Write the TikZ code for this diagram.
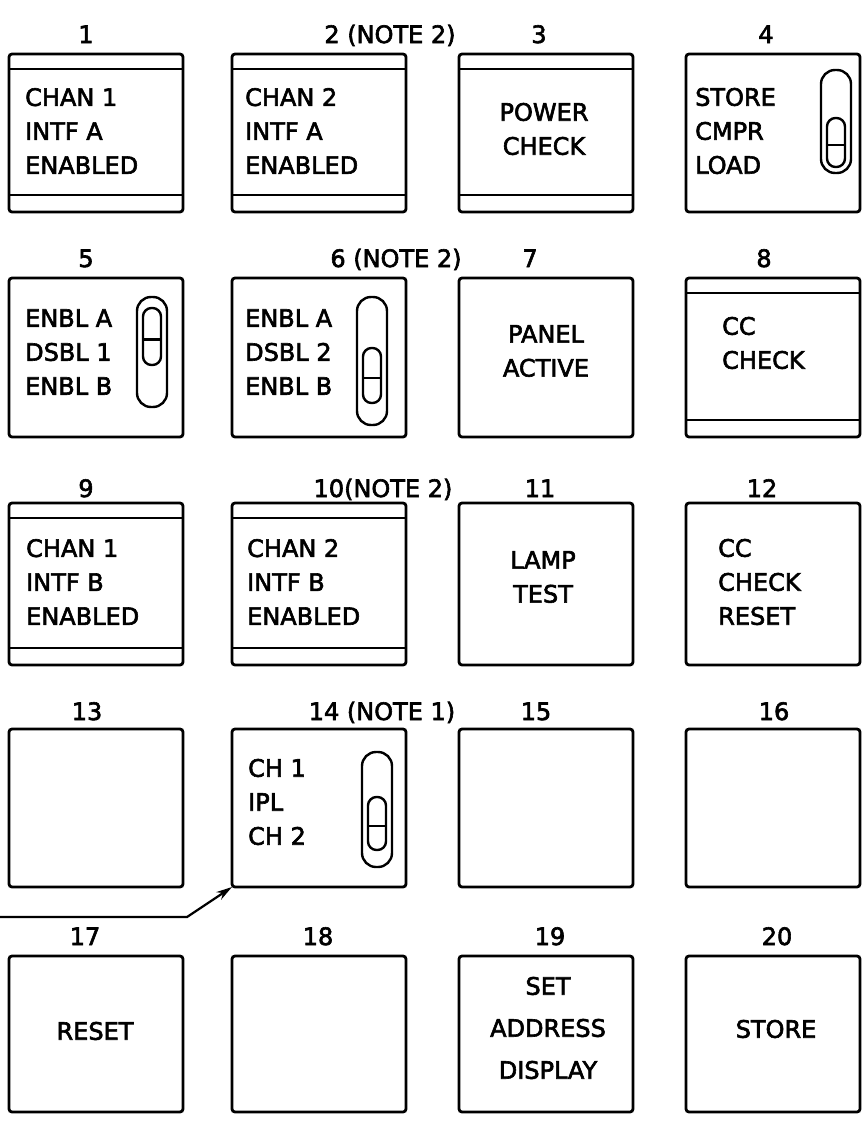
\documentclass[tikz,border=0pt]{standalone}
\usepackage{fontspec}
\usepackage{tikz}
\usetikzlibrary{calc}
\usetikzlibrary{positioning}
\usetikzlibrary{arrows.meta}
\newfontfamily\plate{DejaVu Sans}[FakeBold=2.5]

\tikzset{
    panel/.style={draw, line width=2.8pt, rounded corners=3pt, outer sep=0pt,
        inner sep=0pt, minimum width=174pt, anchor=north west},
    band/.style={line width=2.4pt},
    num/.style={font=\plate\fontsize{24}{30}\selectfont, anchor=base, inner sep=0pt},
    legend/.style={font=\plate\fontsize{24}{34}\selectfont, align=left, anchor=west, inner sep=0pt},
    legendc/.style={legend, align=center, anchor=center},
    slot/.style={line width=2.4pt},
}

% slide switch: centre x, top, bottom, knob top, knob bottom
\newcommand{\slideswitch}[5]{
    \draw[slot, rounded corners=14pt] ({#1-15},#2) rectangle ({#1+15},#3);
    \draw[slot, rounded corners=8.5pt] ({#1-9},#4) rectangle ({#1+9},#5);
    \draw[slot] ({#1-9},{#4+0.55*(#5-#4)}) -- ({#1+9},{#4+0.55*(#5-#4)});
}

\begin{document}
\begin{tikzpicture}[x=1pt, y=-1pt]
    \useasboundingbox (0,0) rectangle (867,1127);

    % the twenty push buttons
    \foreach \n in {1,...,20} {
        \pgfmathsetmacro{\bx}{{9,232,459,686}[mod(\n-1,4)]}
        \pgfmathsetmacro{\by}{{54,278,503,729,956}[int((\n-1)/4)]}
        \pgfmathsetmacro{\bh}{{158,159,162,158,156}[int((\n-1)/4)]}
        \node[panel, minimum height=\bh pt] (b\n) at (\bx,\by) {};
    }

    % lamp caps with top and bottom bands
    \foreach \n in {1,2,3,8,9,10} {
        \draw[band] ([yshift=-15pt]b\n.north west) -- ([yshift=-15pt]b\n.north east);
        \draw[band] ([yshift=17pt]b\n.south west) -- ([yshift=17pt]b\n.south east);
    }

    % position numbers
    \foreach \n/\lx/\ly/\txt in {1/86/43/1, 2/390/43/2 (NOTE 2), 3/539/43/3, 4/766/43/4,
        5/86/267/5, 6/396/267/6 (NOTE 2), 7/530/267/7, 8/764/267/8,
        9/86/497/9, 10/383/497/10(NOTE 2), 11/540/497/11, 12/762/497/12,
        13/87/720/13, 14/382/720/14 (NOTE 1), 15/536/720/15, 16/774/720/16,
        17/85/945/17, 18/318/945/18, 19/550/945/19, 20/777/945/20} {
        \node[num] (l\n) at (\lx,\ly) {\txt};
    }

    % legends
    \node[legend] (t1) at (25,131) {CHAN 1\\INTF A\\ENABLED};
    \node[legend] (t2) at (245,131) {CHAN 2\\INTF A\\ENABLED};
    \node[legendc] (t3) at (544,129) {POWER\\CHECK};
    \node[legend] (t4) at (695,131) {STORE\\CMPR\\LOAD};
    \node[legend] (t5) at (25,352) {ENBL A\\DSBL 1\\ENBL B};
    \node[legend] (t6) at (245,352) {ENBL A\\DSBL 2\\ENBL B};
    \node[legendc] (t7) at (546,351) {PANEL\\ACTIVE};
    \node[legend] (t8) at (722,343) {CC\\CHECK};
    \node[legend] (t9) at (26,582) {CHAN 1\\INTF B\\ENABLED};
    \node[legend] (t10) at (247,582) {CHAN 2\\INTF B\\ENABLED};
    \node[legendc] (t11) at (543,577) {LAMP\\TEST};
    \node[legend] (t12) at (718,582) {CC\\CHECK\\RESET};
    \node[legend] (t14) at (248,802) {CH 1\\IPL\\CH 2};
    \node[legendc] (t17) at (95,1031) {RESET};
    \node[legendc, font=\plate\fontsize{24}{42}\selectfont] (t19) at (548,1028) {SET\\ADDRESS\\DISPLAY};
    \node[legendc] (t20) at (776,1029) {STORE};

    % switches
    \slideswitch{836}{70}{173}{118}{167}
    \slideswitch{152}{297}{407}{308}{365}
    \slideswitch{372}{297}{425}{348}{403}
    \slideswitch{377}{752}{867}{797}{850}

    % leader to button 14
    \coordinate (lead) at (0,917);
    \draw[line width=2.2pt, -{Stealth[length=16pt, width=9pt]}] (lead) -- ++(187,0) -- (b14.south west);
\end{tikzpicture}
\end{document}
